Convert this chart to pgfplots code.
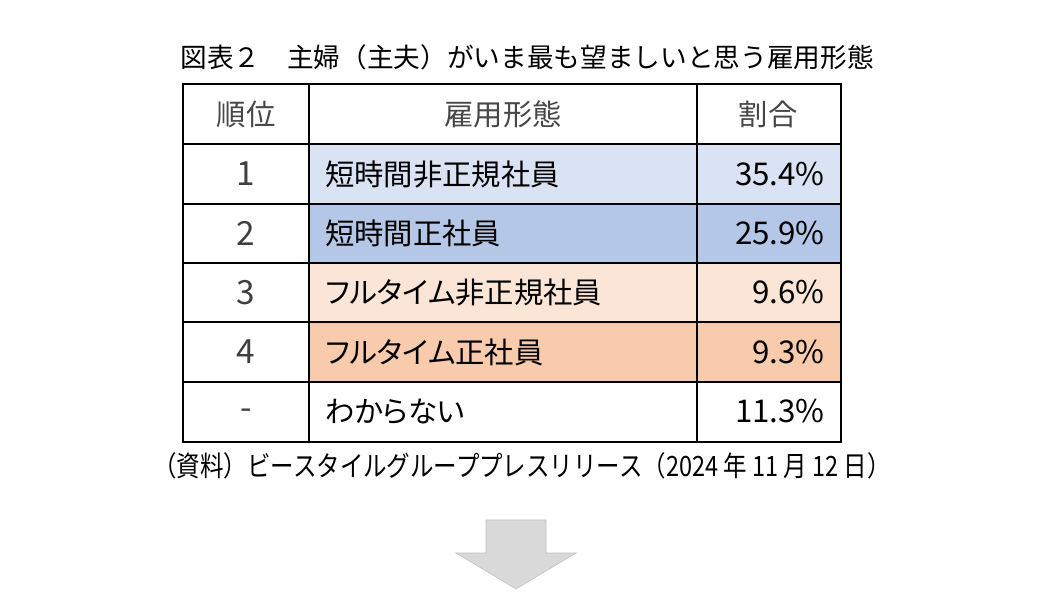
\documentclass[border=0pt]{standalone}
\usepackage{pgfplots}
\pgfplotsset{compat=1.18}
\usepackage{graphicx}
\usepackage{fontspec}
\setmainfont{Noto Sans CJK JP}
\newfontfamily\jpprop{Noto Sans CJK JP}[RawFeature=+palt]
\definecolor{rowA}{HTML}{DAE3F3}
\definecolor{rowB}{HTML}{B4C7E7}
\definecolor{rowC}{HTML}{FBE5D6}
\definecolor{rowD}{HTML}{F8CBAD}
\definecolor{arrowgray}{HTML}{D9D9D9}
\begin{document}
\begin{tikzpicture}
\begin{axis}[
  width=781.5pt, height=455.25pt, scale only axis,
  xmin=0, xmax=1042, ymin=0, ymax=607, y dir=reverse,
  axis lines=none, clip=false,
]
\fill[white] (0,0) rectangle (1042,607);
% row fills (columns 2 and 3)
\fill[rowA] (309,144) rectangle (841,204);
\fill[rowB] (309,204) rectangle (841,263);
\fill[rowC] (309,263) rectangle (841,322);
\fill[rowD] (309,322) rectangle (841,382);
% grid
\draw[black, line width=0.8pt] (183,84) rectangle (841,442);
\foreach \yy in {144,204,263,322,382} {
  \edef\tmp{\noexpand\draw[black, line width=0.8pt] (183,\yy) -- (841,\yy);}\tmp
}
\draw[black, line width=0.8pt] (309,84) -- (309,442);
\draw[black, line width=0.8pt] (697,84) -- (697,442);
% title
\node[font=\fontsize{20}{24}\selectfont, inner sep=0pt] at (527,57) {図表２　主婦（主夫）がいま最も望ましいと思う雇用形態};
% header
\node[font=\fontsize{22}{26}\selectfont, inner sep=0pt, text=black!72] at (246,114) {順位};
\node[font=\fontsize{22}{26}\selectfont, inner sep=0pt, text=black!72] at (503,114) {雇用形態};
\node[font=\fontsize{22}{26}\selectfont, inner sep=0pt, text=black!72] at (768,114) {割合};
% rank column
\node[font=\fontsize{25}{29}\selectfont, inner sep=0pt, text=black!75] at (246,174) {1};
\node[font=\fontsize{25}{29}\selectfont, inner sep=0pt, text=black!75] at (246,233.5) {2};
\node[font=\fontsize{25}{29}\selectfont, inner sep=0pt, text=black!75] at (246,292.5) {3};
\node[font=\fontsize{25}{29}\selectfont, inner sep=0pt, text=black!75] at (246,352) {4};
\node[font=\fontsize{25}{29}\selectfont, inner sep=0pt, text=black!75] at (246,414) {-};
% type column
\node[font=\jpprop\fontsize{22}{26}\selectfont, inner sep=0pt, anchor=west] at (325,174) {短時間非正規社員};
\node[font=\jpprop\fontsize{22}{26}\selectfont, inner sep=0pt, anchor=west] at (325,233.5) {短時間正社員};
\node[font=\jpprop\fontsize{22}{26}\selectfont, inner sep=0pt, anchor=west] at (325,292.5) {フルタイム非正規社員};
\node[font=\jpprop\fontsize{22}{26}\selectfont, inner sep=0pt, anchor=west] at (325,352) {フルタイム正社員};
\node[font=\jpprop\fontsize{22}{26}\selectfont, inner sep=0pt, anchor=west] at (325,411.5) {わからない};
% share column
\node[font=\fontsize{23.5}{28}\selectfont, inner sep=0pt, anchor=east] at (825,174) {35.4\%};
\node[font=\fontsize{23.5}{28}\selectfont, inner sep=0pt, anchor=east] at (825,233.5) {25.9\%};
\node[font=\fontsize{23.5}{28}\selectfont, inner sep=0pt, anchor=east] at (825,292.5) {9.6\%};
\node[font=\fontsize{23.5}{28}\selectfont, inner sep=0pt, anchor=east] at (825,352) {9.3\%};
\node[font=\fontsize{23.5}{28}\selectfont, inner sep=0pt, anchor=east] at (825,411.5) {11.3\%};
% source note
\node[font=\fontsize{21}{25}\selectfont, inner sep=0pt] at (522,466) {\resizebox{553pt}{\height}{（資料）ビースタイルグループプレスリリース（2024 年 11 月 12 日）}};
% arrow
\fill[arrowgray, draw=black!25, line width=0.4pt] (486,520) -- (546,520) -- (546,553) -- (576,553) -- (516,589) -- (456,553) -- (486,553) -- cycle;
\end{axis}
\end{tikzpicture}
\end{document}
